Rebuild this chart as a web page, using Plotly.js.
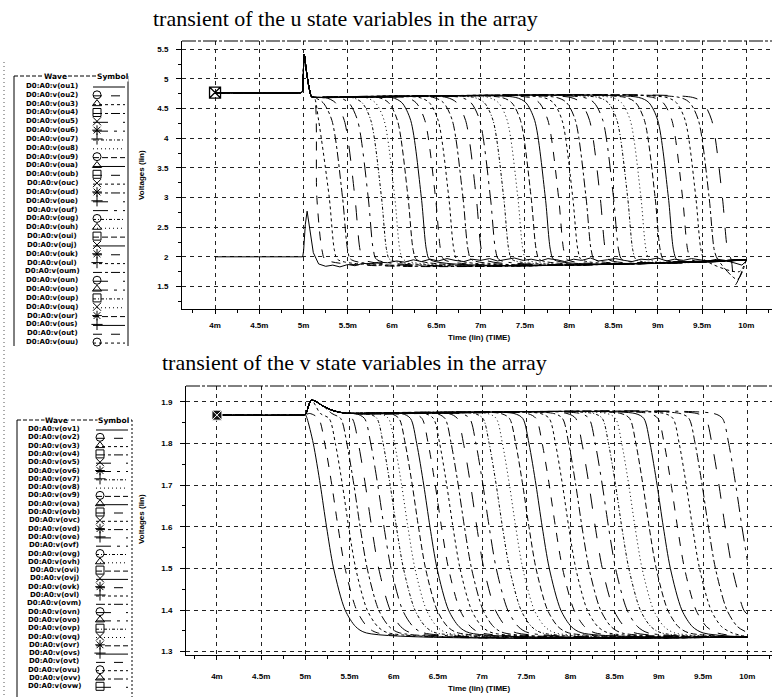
<!DOCTYPE html>
<html>
<head>
<meta charset="utf-8">
<script src="https://cdn.plot.ly/plotly-3.0.1.min.js"></script>
<style>
  html, body { margin: 0; padding: 0; background: #fff; }
  #chart { width: 772px; height: 697px; }
</style>
</head>
<body>
<div id="chart"></div>
<script>
// ---------- time axis (ms) ----------
const timeTickVals = [4, 4.5, 5, 5.5, 6, 6.5, 7, 7.5, 8, 8.5, 9, 9.5, 10];
const timeTickText = ['4m', '4.5m', '5m', '5.5m', '6m', '6.5m', '7m', '7.5m', '8m', '8.5m', '9m', '9.5m', '10m'];

// ---------- u state variables ----------
const uNames = ['ou1', 'ou2', 'ou3', 'ou4', 'ou5', 'ou6', 'ou7', 'ou8', 'ou9',
  'oua', 'oub', 'ouc', 'oud', 'oue', 'ouf', 'oug', 'ouh', 'oui', 'ouj', 'ouk', 'oul',
  'oum', 'oun', 'ouo', 'oup', 'ouq', 'our', 'ous', 'out', 'ouu', 'ouv', 'ouw'];

// ou1: sits low, gets a kick at 5m, then stays on the low rail
const uLowT = [4.0, 4.99, 5.0, 5.02, 5.04, 5.07, 5.11, 5.17,
  5.25, 5.33, 5.41, 5.50, 5.58, 5.67, 5.76, 5.85, 5.95, 6.05, 6.14, 6.24, 6.33, 6.43,
  6.52, 6.62, 6.71, 6.81, 6.90, 7.00, 7.10, 7.19, 7.29, 7.38, 7.48, 7.57, 7.67, 7.76,
  7.86, 7.95, 8.05, 8.14, 8.24, 8.33, 8.43, 8.52, 8.62, 8.71, 8.81, 8.90, 9.00, 9.10,
  9.19, 9.29, 9.38, 9.48, 9.57, 9.67, 9.76, 9.86, 9.95, 10.0];
const uLowV = [2.0, 2.0, 2.1, 2.55, 2.77, 2.5, 2.07, 1.88,
  1.84, 1.86, 1.83, 1.87, 1.85, 1.89, 1.88, 1.91, 1.90, 1.93, 1.91, 1.95, 1.92, 1.96,
  1.93, 1.97, 1.94, 1.92, 1.96, 1.94, 1.97, 1.93, 1.95, 1.98, 1.94, 1.96, 1.93, 1.97,
  1.95, 1.92, 1.96, 1.94, 1.98, 1.93, 1.95, 1.97, 1.94, 1.92, 1.96, 1.95, 1.98, 1.93,
  1.96, 1.94, 1.97, 1.95, 1.93, 1.96, 1.94, 1.90, 1.86, 1.93];

// cells that start high: plateau, overshoot at 5m, settle on the upper rail
const uHighT = [4.0, 4.97, 4.985, 5.005, 5.035, 5.065, 5.09, 5.12];
const uHighV = [4.77, 4.77, 4.78, 5.42, 5.10, 4.83, 4.70, 4.69];

// falling edge of a cell: time offsets (ms) from its 3 V crossing, and voltages
const uEdgeDt = [-0.34, -0.22, -0.12, 0, 0.06, 0.10];
const uEdgeV = [4.69, 4.60, 4.30, 3.00, 2.10, 1.95];

// 3 V crossing time (ms) of ou2 .. ouw
const uCross = [5.15, 5.29, 5.44, 5.58, 5.73, 5.88, 6.03, 6.18, 6.33, 6.49, 6.64,
  6.80, 6.95, 7.11, 7.26, 7.42, 7.57, 7.73, 7.88, 8.04, 8.19, 8.35, 8.50, 8.66,
  8.81, 8.97, 9.12, 9.28, 9.43, 9.58, 9.73];

// value on the low rail at the end of the run
const uEndT = 10.0;
const uEndV = 1.95;
// undershoot of the three last cells just before 10m (last cell first)
const uDipT = [9.87, 9.90, 9.92];
const uDipV = [1.52, 1.62, 1.75];

// ---------- v state variables ----------
const vNames = ['ov1', 'ov2', 'ov3', 'ov4', 'ov5', 'ov6', 'ov7', 'ov8', 'ov9',
  'ova', 'ovb', 'ovc', 'ovd', 'ove', 'ovf', 'ovg', 'ovh', 'ovi', 'ovj', 'ovk', 'ovl',
  'ovm', 'ovn', 'ovo', 'ovp', 'ovq', 'ovr', 'ovs', 'ovt', 'ovu', 'ovv', 'ovw', 'ovx'];

const vStartT = [4.0, 4.96, 5.0];
const vStartV = [1.868, 1.868, 1.869];
// small bump of the upper rail right after 5m
const vBumpT = [5.07, 5.20, 5.30, 5.45];
const vBumpV = [1.904, 1.890, 1.880, 1.873];

// falling edge: time offsets (ms) from the 1.6 V crossing, and voltages
const vEdgeDt = [-0.32, -0.22, -0.15, -0.07, 0, 0.08, 0.21, 0.33, 0.45, 0.65];
const vEdgeV = [1.872, 1.86, 1.80, 1.70, 1.60, 1.50, 1.40, 1.36, 1.345, 1.335];

// 1.6 V crossing time (ms) of ov1 .. ovx
const vCross = [5.24, 5.37, 5.49, 5.62, 5.75, 5.89, 6.03, 6.16, 6.28, 6.41, 6.54,
  6.67, 6.80, 6.94, 7.08, 7.23, 7.38, 7.53, 7.68, 7.83, 7.98, 8.13, 8.28, 8.43,
  8.58, 8.73, 8.89, 9.05, 9.21, 9.38, 9.56, 9.75, 9.94];
// voltage of each cell at the end of the run (10m)
const vAt10 = [1.335, 1.335, 1.335, 1.335, 1.335, 1.335, 1.335, 1.335, 1.335, 1.335,
  1.335, 1.335, 1.335, 1.335, 1.335, 1.335, 1.335, 1.335, 1.335, 1.335, 1.335, 1.335,
  1.335, 1.335, 1.335, 1.335, 1.335, 1.335, 1.335, 1.336, 1.346, 1.39, 1.52];
const vEndT = 10.0;

// ---------- styling ----------
const W = 772, H = 697;
const dashCycle = ['solid', 'dash', 'dot', 'dashdot', 'longdash', 'longdashdot',
  '3px,2px,1px,2px', '1px,3px', '6px,3px'];
const legendSymbols = [null, 'circle-open', 'triangle-up-open', 'square-open',
  'x-thin-open', 'asterisk-open', 'cross-thin-open'];
const sansBold = { family: 'Liberation Sans, Arial, sans-serif', size: 8, color: '#000', weight: 'bold' };
const tableFont = { family: 'DejaVu Sans, Verdana, sans-serif', size: 7, color: '#000', weight: 'bold' };
const gridStyle = { gridcolor: '#222', griddash: '4px,4px', gridwidth: 1 };

const px = x => x / W;
const py = y => 1 - y / H;

const traces = [];

// u panel curves
traces.push({
  x: uLowT, y: uLowV, xaxis: 'x', yaxis: 'y', mode: 'lines', name: uNames[0],
  line: { color: '#000', width: 1, dash: dashCycle[0] }, showlegend: false, hoverinfo: 'skip'
});
uCross.forEach((c, k) => {
  const xs = uHighT.slice(), ys = uHighV.slice();
  const lastPre = uHighT[uHighT.length - 1];
  uEdgeDt.forEach((dt, j) => {
    const t = c + dt;
    if (t > lastPre + 0.005) { xs.push(t); ys.push(uEdgeV[j]); }
  });
  const fromEnd = uCross.length - 1 - k;
  if (fromEnd < uDipT.length) { xs.push(uDipT[fromEnd]); ys.push(uDipV[fromEnd]); }
  xs.push(uEndT); ys.push(uEndV);
  traces.push({
    x: xs, y: ys, xaxis: 'x', yaxis: 'y', mode: 'lines', name: uNames[k + 1],
    line: { color: '#000', width: 1, dash: dashCycle[(k + 1) % dashCycle.length], shape: 'spline', smoothing: 0.8 },
    showlegend: false, hoverinfo: 'skip'
  });
});
// cursor marker on the upper rail
traces.push({
  x: [uHighT[0]], y: [uHighV[0]], xaxis: 'x', yaxis: 'y', mode: 'markers',
  marker: { symbol: 'square-x-open', size: 11, color: '#000', line: { color: '#000', width: 1.3 } },
  showlegend: false, hoverinfo: 'skip'
});

// v panel curves
vCross.forEach((c, k) => {
  const xs = vStartT.slice(), ys = vStartV.slice();
  const shoulder = c + vEdgeDt[0];
  vBumpT.forEach((t, j) => {
    if (t < shoulder - 0.02) { xs.push(t); ys.push(vBumpV[j]); }
  });
  const last = xs[xs.length - 1];
  vEdgeDt.forEach((dt, j) => {
    const t = c + dt;
    if (t > last + 0.005 && t < vEndT - 0.01 && vEdgeV[j] > vAt10[k]) { xs.push(t); ys.push(vEdgeV[j]); }
  });
  xs.push(vEndT); ys.push(vAt10[k]);
  traces.push({
    x: xs, y: ys, xaxis: 'x2', yaxis: 'y2', mode: 'lines', name: vNames[k],
    line: { color: '#000', width: 1, dash: dashCycle[k % dashCycle.length], shape: 'spline', smoothing: 0.8 },
    showlegend: false, hoverinfo: 'skip'
  });
});
traces.push({
  x: [vStartT[0]], y: [vStartV[0]], xaxis: 'x2', yaxis: 'y2', mode: 'markers',
  marker: { symbol: 'square-x', size: 10, color: '#111', line: { color: '#fff', width: 1 } },
  showlegend: false, hoverinfo: 'skip'
});

// ---------- wave/symbol tables (drawn in pixel space on a hidden overlay axis) ----------
const shapes = [];
const annotations = [];

function waveTable(names, prefix, opt) {
  const symX = [], symY = [], symS = [];
  shapes.push({ type: 'line', xref: 'x3', yref: 'y3', x0: opt.left, x1: opt.left, y0: opt.top, y1: opt.bottom,
    line: { color: '#000', width: 1 } });
  shapes.push({ type: 'line', xref: 'x3', yref: 'y3', x0: opt.right, x1: opt.right, y0: opt.top, y1: opt.bottom,
    line: { color: '#000', width: 1, dash: opt.rightDash } });
  shapes.push({ type: 'line', xref: 'x3', yref: 'y3', x0: opt.left, x1: opt.right, y0: opt.top, y1: opt.top,
    line: { color: '#000', width: 1, dash: '4px,2px' } });
  const headFont = Object.assign({}, tableFont, { size: 7.5 });
  annotations.push({ xref: 'x3', yref: 'y3', x: opt.waveX, y: opt.top, text: 'Wave', showarrow: false,
    xanchor: 'center', yanchor: 'middle', font: headFont, bgcolor: '#fff', borderpad: 0 });
  annotations.push({ xref: 'x3', yref: 'y3', x: opt.symbolX, y: opt.top, text: 'Symbol', showarrow: false,
    xanchor: 'center', yanchor: 'middle', font: headFont, bgcolor: '#fff', borderpad: 0 });
  names.forEach((n, i) => {
    const y = opt.first + i * opt.step;
    annotations.push({ xref: 'x3', yref: 'y3', x: opt.textX, y: y, text: prefix + n + ')', showarrow: false,
      xanchor: 'center', yanchor: 'middle', font: tableFont, borderpad: 0 });
    shapes.push({ type: 'line', xref: 'x3', yref: 'y3', x0: opt.sym0, x1: opt.sym1, y0: y + 1, y1: y + 1,
      line: { color: '#000', width: 1, dash: dashCycle[i % dashCycle.length] } });
    const s = legendSymbols[i % legendSymbols.length];
    if (s) { symX.push(opt.sym0 + 4); symY.push(y); symS.push(s); }
  });
  traces.push({
    x: symX, y: symY, xaxis: 'x3', yaxis: 'y3', mode: 'markers',
    marker: { symbol: symS, size: 8, color: '#000', line: { color: '#000', width: 1 } },
    showlegend: false, hoverinfo: 'skip'
  });
}

waveTable(uNames.slice(0, 30), 'D0:A0:v(', {
  left: 14, right: 128, top: 76, bottom: 346, rightDash: 'solid',
  waveX: 55, symbolX: 112, textX: 52, first: 86, step: 8.83, sym0: 93, sym1: 125
});
waveTable(vNames.slice(0, 32), 'D0:A0:v(', {
  left: 17, right: 132, top: 420, bottom: 697, rightDash: '2px,2px',
  waveX: 56, symbolX: 113, textX: 54, first: 429, step: 8.3, sym0: 96, sym1: 128
});

// window edge on the far left
shapes.push({ type: 'line', xref: 'paper', yref: 'paper', x0: px(4), x1: px(4), y0: py(62), y1: py(697),
  line: { color: '#555', width: 1, dash: '1px,3px' } });
// top borders of the two plot frames
shapes.push({ type: 'line', xref: 'paper', yref: 'paper', x0: px(182), x1: 1, y0: py(41), y1: py(41),
  line: { color: '#000', width: 1, dash: '14px,2px,3px,2px' } });
shapes.push({ type: 'line', xref: 'paper', yref: 'paper', x0: px(186), x1: 1, y0: py(386), y1: py(386),
  line: { color: '#000', width: 1, dash: '14px,2px,3px,2px' } });

// titles and axis captions (pixel centres)
const serif = { family: 'Liberation Serif, Times New Roman, serif', size: 22, color: '#000' };
function caption(x, y, text, font, angle) {
  annotations.push({ xref: 'paper', yref: 'paper', x: px(x), y: py(y), text: text, showarrow: false,
    xanchor: 'center', yanchor: 'middle', textangle: angle || 0, font: font });
}
caption(345, 18, 'transient of the u state variables in the array', serif);
caption(354, 362, 'transient of the v state variables in the array', serif);
caption(141, 175, 'Voltages (lin)', sansBold, -90);
caption(141, 519, 'Voltages (lin)', sansBold, -90);
caption(479, 337, 'Time (lin) (TIME)', sansBold);
caption(479, 688, 'Time (lin) (TIME)', sansBold);

const timeAxis = (domainLeft, range, anchor, standoff) => Object.assign({
  domain: [px(domainLeft), 1], range: range, anchor: anchor,
  tickmode: 'array', tickvals: timeTickVals, ticktext: timeTickText,
  showgrid: true, zeroline: false, showline: true, linecolor: '#000', linewidth: 1,
  ticks: 'outside', ticklen: 4, tickcolor: '#000', tickfont: sansBold, ticklabelstandoff: standoff,
  minor: { tick0: 4, dtick: 0.25, ticks: 'outside', ticklen: 3, tickcolor: '#000', showgrid: false },
  fixedrange: true
}, gridStyle);

const layout = {
  width: W, height: H,
  margin: { l: 0, r: 0, t: 0, b: 0 },
  paper_bgcolor: '#fff', plot_bgcolor: 'rgba(0,0,0,0)',
  showlegend: false,
  xaxis: timeAxis(182, [3.627, 10.29], 'y', 4),
  yaxis: Object.assign({
    domain: [py(309), py(41)], range: [1.12, 5.64], anchor: 'x',
    tick0: 0, dtick: 0.5, showgrid: true, zeroline: false, showline: true, linecolor: '#000', linewidth: 1,
    ticks: 'outside', ticklen: 5, tickcolor: '#000', tickfont: sansBold, ticklabelstandoff: 6,
    minor: { dtick: 0.25, ticks: 'outside', ticklen: 3, tickcolor: '#000', showgrid: false },
    fixedrange: true
  }, gridStyle),
  xaxis2: timeAxis(186, [3.65, 10.28], 'y2', 9),
  yaxis2: Object.assign({
    domain: [py(655), py(386)], range: [1.292, 1.938], anchor: 'x2',
    tick0: 0, dtick: 0.1, tickformat: '.1f', showgrid: true, zeroline: false, showline: true, linecolor: '#000', linewidth: 1,
    ticks: 'outside', ticklen: 5, tickcolor: '#000', tickfont: sansBold, ticklabelstandoff: 6,
    minor: { dtick: 0.05, ticks: 'outside', ticklen: 3, tickcolor: '#000', showgrid: false },
    fixedrange: true
  }, gridStyle),
  xaxis3: { domain: [0, 1], range: [0, W], anchor: 'y3', visible: false, fixedrange: true },
  yaxis3: { domain: [0, 1], range: [H, 0], anchor: 'x3', visible: false, fixedrange: true },
  shapes: shapes,
  annotations: annotations
};

Plotly.newPlot('chart', traces, layout, { staticPlot: true, displayModeBar: false });
</script>
</body>
</html>
